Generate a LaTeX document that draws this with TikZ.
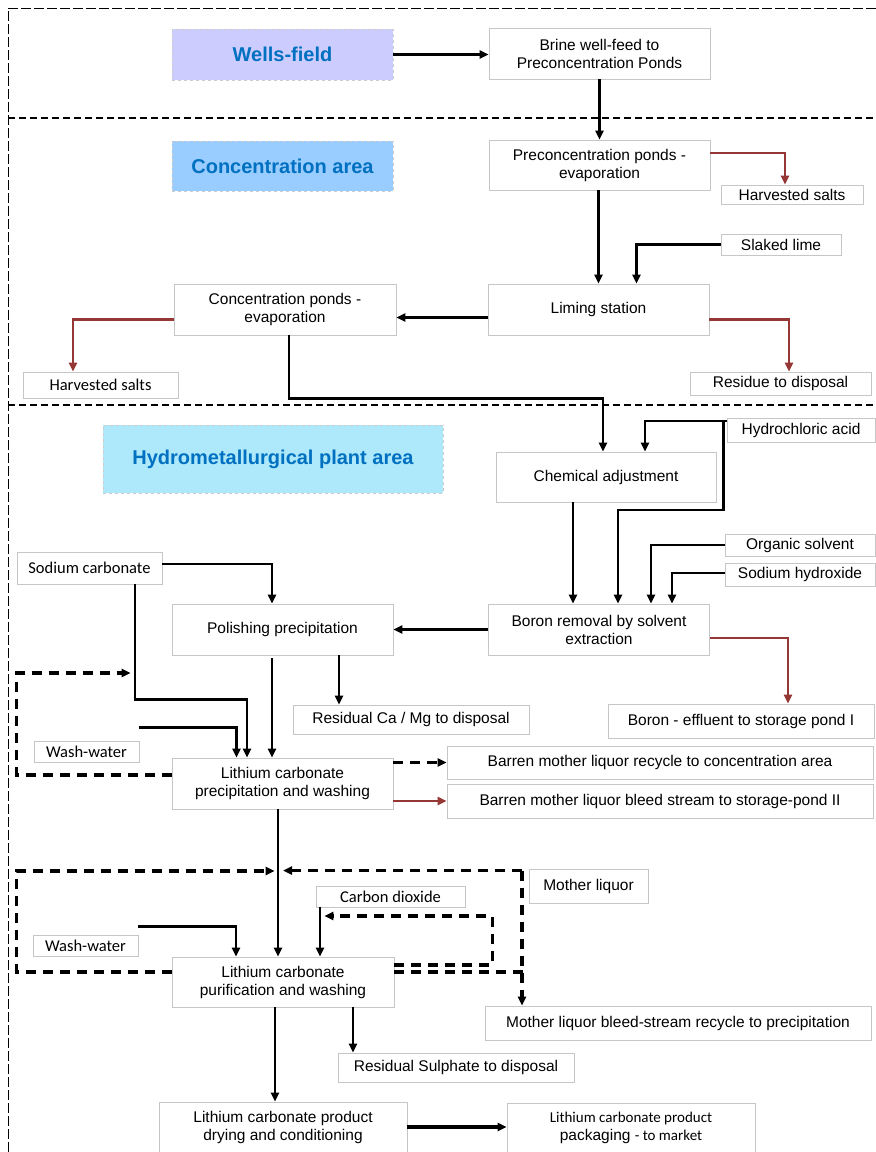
\documentclass[tikz,border=0pt]{standalone}
\usepackage{fontspec}
\setmainfont{Liberation Sans}
\newfontfamily\calfont{Carlito}
\usepackage{xcolor}
\usepackage{tikz}
\usetikzlibrary{calc,arrows.meta}
\definecolor{redx}{HTML}{953735}
\definecolor{bluex}{HTML}{0070C0}
\definecolor{wellbg}{HTML}{CCCCFF}
\definecolor{concbg}{HTML}{99CCFF}
\definecolor{hydrobg}{HTML}{ADE8FB}
\tikzset{
  box/.style={draw=gray!45,line width=0.8pt,fill=white,align=center,inner sep=1pt,font=\fontsize{15.5}{18}\selectfont},
  cbox/.style={box,font=\calfont\fontsize{16.5}{18}\selectfont},
  area/.style={draw=gray!40,dashed,line width=0.8pt,fill=#1,text=bluex,font=\bfseries\fontsize{20}{24}\selectfont},
  ar/.style={-{Triangle[length=9pt,width=8pt]},line width=2.6pt},
  bigar/.style={ar,line width=3.2pt},
  redar/.style={ar,draw=redx,line width=2.8pt},
  dashar/.style={ar,dash pattern=on 10pt off 7pt,line width=3.4pt},
  dashln/.style={dash pattern=on 10pt off 7pt,line width=3.4pt},
  frame/.style={dash pattern=on 7pt off 4pt,line width=1.3pt}
}
\begin{document}
\begin{tikzpicture}[x=1pt,y=-1pt]
\useasboundingbox (0,0) rectangle (876,1152);
% zones
\draw[frame,line width=0.8pt,dash pattern=on 10pt off 3pt] (8,1152) -- (8,8) -- (876,8);
\draw[frame] (8,118) -- (876,118);
\draw[frame] (8,405) -- (876,405);
\node[area=wellbg,minimum width=221pt,minimum height=51pt] (wells) at (282.5,54.5) {Wells-field};
\node[area=concbg,minimum width=221pt,minimum height=50pt] (conc) at (282.5,166) {Concentration area};
\node[area=hydrobg,minimum width=340pt,minimum height=68pt] (hydro) at (273,459) {Hydrometallurgical plant area};
% process boxes
\node[box,minimum width=221pt,minimum height=51pt] (brine) at (599.5,53.5) {Brine well-feed to\\Preconcentration Ponds};
\node[box,minimum width=221pt,minimum height=50pt] (preconc) at (599.5,165) {Preconcentration ponds -\\evaporation};
\node[box,minimum width=142pt,minimum height=19pt] (harvA) at (792,194.5) {Harvested salts};
\node[box,minimum width=120pt,minimum height=21pt] (slaked) at (781,244.5) {Slaked lime};
\node[box,minimum width=221pt,minimum height=51pt] (liming) at (598.5,309.5) {Liming station};
\node[box,minimum width=222pt,minimum height=51pt] (concpond) at (285,309.5) {Concentration ponds -\\evaporation};
\node[cbox,minimum width=155pt,minimum height=26pt] (harvB) at (100.5,385) {Harvested salts};
\node[box,minimum width=181pt,minimum height=23pt] (residue) at (780.5,383.5) {Residue to disposal};
\node[box,minimum width=220pt,minimum height=50pt] (chemadj) at (606,477) {Chemical adjustment};
\node[box,minimum width=148pt,minimum height=24pt] (hcl) at (801,430) {Hydrochloric acid};
\node[box,minimum width=150pt,minimum height=22pt] (organic) at (800,545) {Organic solvent};
\node[box,minimum width=150pt,minimum height=23pt] (naoh) at (800,574.5) {Sodium hydroxide};
\node[cbox,minimum width=145pt,minimum height=32pt] (sodacarb) at (89.5,568) {Sodium carbonate};
\node[box,minimum width=221pt,minimum height=51pt] (polish) at (282.5,629.5) {Polishing precipitation};
\node[box,minimum width=221pt,minimum height=51pt] (boron) at (599,629.5) {Boron removal by solvent\\extraction};
\node[box,minimum width=236pt,minimum height=29pt] (residCa) at (411,719.5) {Residual Ca / Mg to disposal};
\node[box,minimum width=266pt,minimum height=34pt] (boronEff) at (741,721) {Boron - effluent to storage pond I};
\node[cbox,minimum width=105pt,minimum height=21pt] (washA) at (86.5,751.5) {Wash-water};
\node[box,minimum width=221pt,minimum height=51pt] (licarb) at (282.5,783.5) {Lithium carbonate\\precipitation and washing};
\node[box,minimum width=426pt,minimum height=33pt] (barrenA) at (660,762.5) {Barren mother liquor recycle to concentration area};
\node[box,minimum width=426pt,minimum height=34pt] (barrenB) at (660,801) {Barren mother liquor bleed stream to storage-pond II};
\node[box,minimum width=119pt,minimum height=34pt] (motherliq) at (588.5,886) {Mother liquor};
\node[cbox,minimum width=149pt,minimum height=21pt] (cotwo) at (390.5,896.5) {Carbon dioxide};
\node[cbox,minimum width=105pt,minimum height=21pt] (washB) at (85.5,945.5) {Wash-water};
\node[box,minimum width=222pt,minimum height=50pt] (purif) at (283,982) {Lithium carbonate\\purification and washing};
\node[box,minimum width=386pt,minimum height=34pt] (mlbleed) at (678,1023) {Mother liquor bleed-stream recycle to precipitation};
\node[box,minimum width=236pt,minimum height=29pt] (residS) at (456,1067.5) {Residual Sulphate to disposal};
\node[box,minimum width=248pt,minimum height=50pt] (dry) at (283,1127) {Lithium carbonate product\\drying and conditioning};
\node[box,minimum width=248pt,minimum height=49pt] (pack) at (631,1127.5) {{\calfont\fontsize{15}{18}\selectfont Lithium carbonate product}\\packaging {\calfont\fontsize{15}{18}\selectfont - to market}};
% wells-field and concentration
\draw[bigar] (wells.east) -- (wells.east -| brine.west);
\draw[ar] (brine.south) -- (preconc.north);
\draw[redar] ([yshift=12pt]preconc.east) -| ([xshift=-7pt]harvA.north);
\draw[ar] ([xshift=-1pt]preconc.south) -- (liming.north);
\draw[ar] (slaked.west) -| ([xshift=38pt]liming.north);
\draw[ar] ([yshift=-8pt]liming.west) -- ([yshift=-8pt]concpond.east);
\draw[redar] ([yshift=-10pt]liming.east) -| ([xshift=8.5pt]residue.north);
\draw[redar] ([yshift=-10pt]concpond.west) -| ([xshift=-27.5pt]harvB.north);
\draw[ar] ([xshift=4pt]concpond.south) -- ++(0,63) -| ([xshift=-3pt]chemadj.north);
% hydrometallurgical plant
\draw[ar] ([yshift=9pt]hcl.west) -| ([xshift=39pt]chemadj.north);
\draw[ar] ([yshift=9pt]hcl.west) ++(-3,0) -- ++(0,89) -| ([xshift=19pt]boron.north);
\draw[ar] ([xshift=-33pt]chemadj.south) -- ([xshift=-26pt]boron.north);
\draw[ar] (organic.west) -| ([xshift=52pt]boron.north);
\draw[ar] ([yshift=1.5pt]naoh.west) -| ([xshift=73pt]boron.north);
\draw[ar] (boron.west) -- (polish.east);
\draw[redar] ([yshift=-8.5pt]boron.east) -| ([xshift=47pt]boronEff.north);
\draw[ar] ([yshift=4pt]sodacarb.east) -| ([xshift=-10.5pt]polish.north);
\draw[ar] ([xshift=45.5pt]sodacarb.south) -- ++(0,115) -| ([xshift=-35.5pt]licarb.north);
\draw[ar] ([xshift=-10.5pt,yshift=-3pt]polish.south) -- ([xshift=-10.5pt]licarb.north);
\draw[ar] ([xshift=56.5pt]polish.south) -- ([xshift=-72pt]residCa.north);
\draw[ar] ([yshift=13pt]washA.north east) -| ([xshift=-46pt]licarb.north);
\draw[dashar] ([yshift=8.5pt]licarb.west) -- ++(-155,0) -- ++(0,-102) -- ++(114,0);
\draw[dashar] (licarb.east |- barrenA.west) -- (barrenA.west);
\draw[redar] (licarb.east |- barrenB.west) -- (barrenB.west);
\draw[ar] ([xshift=-4.5pt]licarb.south) -- ([xshift=-5pt]purif.north);
% purification loops
\draw[dashar] ([yshift=10pt]purif.west) -- ++(-155,0) -- ++(0,-101) -- ++(258,0);
\draw[dashln] ([yshift=10pt]purif.east) -- ++(134,0);
\draw[dashar] ([xshift=-156pt]mlbleed.north) ++(0,-135) -- ([xshift=-156pt]mlbleed.north);
\draw[dashar] ([xshift=-156pt]mlbleed.north) ++(0,-135) -- ++(-239,0);
\draw[dashar] ([yshift=17pt]purif.east) -- ++(98,0) -- ++(0,-49) -- ++(-168,0);
\draw[ar] ([xshift=-70.5pt]cotwo.south) -- ([xshift=37pt]purif.north);
\draw[ar] ([yshift=8pt]washB.north east) -| ([xshift=-47pt]purif.north);
\draw[ar] ([xshift=70pt]purif.south) -- ([xshift=-103pt]residS.north);
\draw[ar] ([xshift=-8pt]purif.south) -- ([xshift=-8pt]dry.north);
\draw[bigar] (dry.east) -- (dry.east -| pack.west);
\end{tikzpicture}
\end{document}
